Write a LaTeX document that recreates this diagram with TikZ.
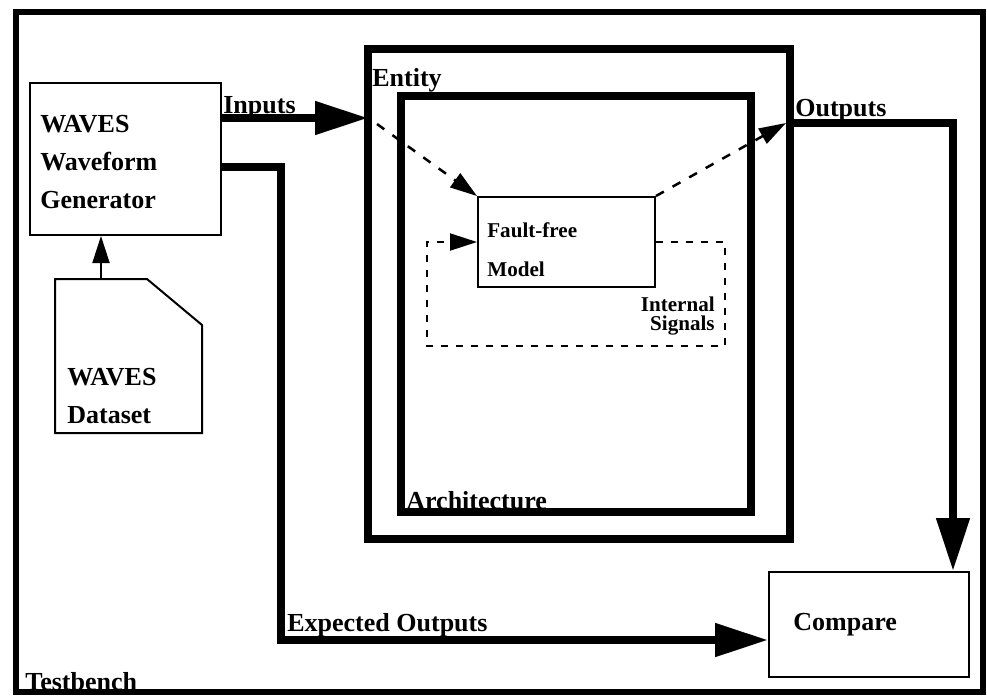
\documentclass[tikz,border=0pt]{standalone}
\usepackage{fontspec}
\setmainfont{Liberation Serif}
\usetikzlibrary{arrows.meta}
\usetikzlibrary{fit}
\usetikzlibrary{positioning}

\begin{document}
\begin{tikzpicture}
	[
	x=0.02cm, y=-0.02cm,
	> = {Triangle[length=0.54cm,width=0.34cm]},
	box/.style = {draw, line width=0.04cm, inner sep=0},
	thickframe/.style = {draw, line width=0.16cm, inner sep=0},
	thinline/.style = {line width=0.04cm},
	bigarrow/.style = {line width=0.16cm, -{Triangle[length=1.06cm,width=0.64cm]}},
	dasharrow/.style = {line width=0.05cm, dash pattern=on 0.18cm off 0.2cm, ->},
	sigdash/.style = {line width=0.04cm, dash pattern=on 0.14cm off 0.16cm},
	lbl/.style = {font=\fontsize{14.8}{21.6}\selectfont\bfseries, inner sep=0, anchor=base west, align=left},
	small/.style = {font=\fontsize{12}{22}\selectfont\bfseries, inner sep=0, anchor=base west, align=left}
	]
	\useasboundingbox (0,0) rectangle (987,697);

	% frames
	\node[thickframe, line width=0.13cm, fit={(16,12) (983,692)}] (tb) {};
	\node[thickframe, fit={(368,49) (790,539)}] (entity) {};
	\node[thickframe, fit={(401,96) (751,512)}] (arch) {};

	% boxes
	\node[box, fit={(30,83) (221,235)}] (gen) {};
	\node[box, fit={(478,197) (655,287)}] (ffm) {};
	\node[box, fit={(769,572) (969,677)}] (cmp) {};
	\draw[thinline] (55,279) -- (147,279) -- (202,325) -- (202,433) -- (55,433) -- cycle;
	\coordinate (dtop) at (101,279);

	% labels (base = last line)
	\node[lbl] (tblbl) at (25,690) {Testbench};
	\node[lbl] (entlbl) at (372,86) {Entity};
	\node[lbl] (archlbl) at (406,509) {Architecture};
	\node[lbl] (genlbl) at (40,208) {WAVES\\Waveform\\Generator};
	\node[lbl] (datalbl) at (67,423) {WAVES\\Dataset};
	\node[lbl] (cmplbl) at (793,630) {Compare};
	\node[lbl] (inlbl) at (223,113) {Inputs};
	\node[lbl] (outlbl) at (795,116) {Outputs};
	\node[lbl] (explbl) at (287,631) {Expected Outputs};
	\node[small] (ffmlbl) at (487,276) {Fault-free\\Model};
	\node[small, font=\fontsize{12}{10.8}\selectfont\bfseries, anchor=base east, align=right] (siglbl) at (715,330) {Internal\\Signals};

	% connectors
	\coordinate (inport) at (368,118);
	\coordinate (indash) at (377,124);
	\coordinate (outin) at (786,123);
	\coordinate (outport) at (953,123);
	\coordinate (expstart) at (281,167);
	\coordinate (expcorner) at (281,640);
	\coordinate (sigse) at (725,346);
	\coordinate (sigw) at (427,346);

	\draw[thinline, ->] (dtop) -- (dtop |- gen.south);
	\draw[bigarrow] (gen.east |- inport) -- (inport);
	\draw[dasharrow] (indash) -- (ffm.north west);
	\draw[dasharrow] (ffm.north east) -- (outin);
	\draw[bigarrow] (entity.east |- outport) -- (outport) -- (outport |- cmp.north);
	\draw[bigarrow] (gen.east |- expstart) -- (expstart) -- (expcorner) -- (expcorner -| cmp.west);
	\draw[sigdash, ->] (ffm.east) -| (sigse) -- (sigw) |- (ffm.west);
\end{tikzpicture}
\end{document}
